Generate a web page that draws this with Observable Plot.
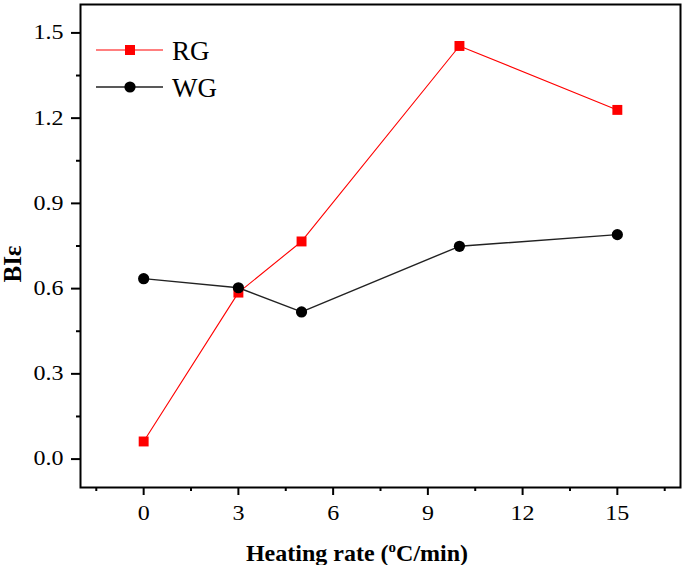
<!DOCTYPE html>
<html>
<head>
<meta charset="utf-8">
<script src="https://cdn.jsdelivr.net/npm/d3@7"></script>
<script src="https://cdn.jsdelivr.net/npm/@observablehq/plot@0.6"></script>
<style>
  html, body { margin: 0; padding: 0; background: white; }
</style>
</head>
<body>
<div id="chart"></div>
<script>
const rates = [0, 3, 5, 10, 15];
const rgValues = [0.062, 0.586, 0.766, 1.454, 1.229];
const wgValues = [0.635, 0.603, 0.518, 0.749, 0.790];
const xTicks = [0, 3, 6, 9, 12, 15];
const xMinor = [-1.5, 1.5, 4.5, 7.5, 10.5, 13.5, 16.5];
const yTicks = [0, 0.3, 0.6, 0.9, 1.2, 1.5];
const yMinor = [0.15, 0.45, 0.75, 1.05, 1.35];
const seriesNames = ["RG", "WG"];

const rg = rates.map((r, i) => ({rate: r, v: rgValues[i]}));
const wg = rates.map((r, i) => ({rate: r, v: wgValues[i]}));

const svg = Plot.plot({
  width: 685,
  height: 565,
  marginLeft: 80,
  marginRight: 5,
  marginTop: 4,
  marginBottom: 78,
  x: {domain: [-2, 17]},
  y: {domain: [-0.1, 1.6]},
  style: {fontFamily: "'Liberation Serif', 'Times New Roman', serif", fontSize: "20px", color: "black", background: "white"},
  marks: [
    Plot.axisX(xTicks, {tickSize: 8, tickPadding: 10, strokeWidth: 2, label: null, fontSize: 20}),
    Plot.axisX(xMinor, {tickSize: 4, strokeWidth: 2, label: null, tickFormat: () => ""}),
    Plot.axisY(yTicks, {tickSize: 9, tickPadding: 8, strokeWidth: 2, label: null, fontSize: 20, tickFormat: d3.format(".1f")}),
    Plot.axisY(yMinor, {tickSize: 4, strokeWidth: 2, label: null, tickFormat: () => ""}),
    Plot.line(rg, {x: "rate", y: "v", stroke: "#ff0000", strokeWidth: 1.1}),
    Plot.line(wg, {x: "rate", y: "v", stroke: "#222", strokeWidth: 1.4}),
    Plot.dot(rg, {x: "rate", y: "v", symbol: "square", r: 5.6, fill: "#ff0000"}),
    Plot.dot(wg, {x: "rate", y: "v", symbol: "circle", r: 5.6, fill: "black"}),
    Plot.frame({stroke: "black", strokeWidth: 2})
  ]
});

const s = d3.select(svg);
const font = "'Liberation Serif', 'Times New Roman', serif";

// widen tick label glyphs slightly (reference uses a wide serif face)
s.selectAll("g[aria-label='x-axis tick label'] text, g[aria-label='y-axis tick label'] text").each(function() {
  const t = this.getAttribute("transform") || "";
  this.setAttribute("transform", t + " scale(1.2,1)");
});

// X axis label
const xl = s.append("text")
  .attr("x", 357).attr("y", 561)
  .attr("text-anchor", "middle")
  .attr("font-family", font).attr("font-weight", "bold").attr("font-size", 24)
  .attr("fill", "black");
xl.append("tspan").text("Heating rate (");
xl.append("tspan").attr("dy", -9).attr("font-size", 15).text("o");
xl.append("tspan").attr("dy", 9).text("C/min)");

// Y axis label
s.append("text")
  .attr("transform", "translate(21,264) rotate(-90)")
  .attr("text-anchor", "middle")
  .attr("font-family", font).attr("font-weight", "bold").attr("font-size", 25)
  .attr("fill", "black")
  .text("BIε");

// Legend
const lg = s.append("g");
const legendRows = [
  {name: seriesNames[0], color: "#ff0000", sym: "square", y: 50, w: 1.1},
  {name: seriesNames[1], color: "#222", sym: "circle", y: 87, w: 1.4}
];
legendRows.forEach(row => {
  lg.append("line").attr("x1", 96).attr("x2", 163).attr("y1", row.y).attr("y2", row.y)
    .attr("stroke", row.color).attr("stroke-width", row.w);
  if (row.sym === "square") {
    lg.append("rect").attr("x", 125).attr("y", row.y - 5).attr("width", 10).attr("height", 10).attr("fill", "#ff0000");
  } else {
    lg.append("circle").attr("cx", 130).attr("cy", row.y).attr("r", 5.6).attr("fill", "black");
  }
  lg.append("text").attr("x", 172).attr("y", row.y + 9.5)
    .attr("text-anchor", "start")
    .attr("font-family", font).attr("font-size", 27).attr("fill", "black")
    .text(row.name);
});

document.getElementById("chart").appendChild(svg);
</script>
</body>
</html>
